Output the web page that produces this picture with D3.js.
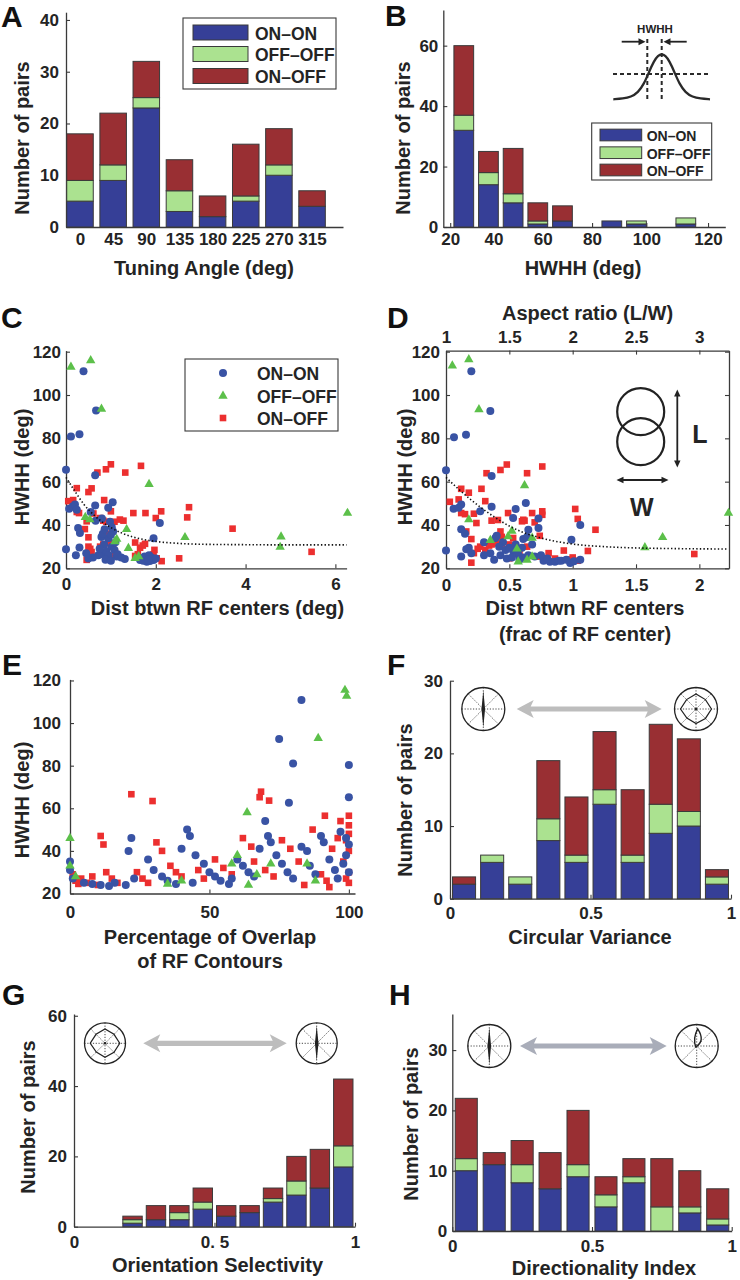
<!DOCTYPE html>
<html><head><meta charset="utf-8">
<script src="https://cdn.jsdelivr.net/npm/d3@7"></script>
<style>
body{margin:0;background:#fff}
svg{display:block}
</style></head><body>
<svg id="fig" width="740" height="1280"></svg>
<script>
// ---------------- DATA ----------------
const SERIES = ["ON\u2013ON","OFF\u2013OFF","ON\u2013OFF"];

// Panel A : tuning angle
const A_CATS = [0,45,90,135,180,225,270,315];
const A_ON = [5,9,23,3,2,5,10,4];
const A_OFF = [4,3,2,4,0,1,2,0];
const A_ONOFF = [9,10,7,6,4,10,7,3];
const A_YTICKS = [0,10,20,30,40];

// Panel B : HWHH histogram
const B_BINS = [25,35,45,55,65,75,85,95,105,115];
const B_ON = [32,14,8,1,2,0,2,1,0,1];
const B_OFF = [5,4,3,1,0,0,0,1,0,2];
const B_ONOFF = [23,7,15,6,5,0,0,0,0,0];
const B_TICK_POS = [19.5,37,57,77,99,124];
const B_TICK_LAB = ["20","40","60","80","100","120"];
const B_YTICKS = [0,20,40,60];

// Panel C : HWHH vs distance (deg)
const C_ONON = [[0.39,111],[0.11,80.8],[0.30,81.9],[0.67,92.9],[0,65.5],[0.65,63],[0.07,47.5],[0.15,48.5],[0.2,49.5],[0.65,49],[1.04,50.5],[0.94,48],[0.27,38.6],[0.31,36.3],[0,28.8],[0.3,29.6],[0.22,26],[0.79,34.4],[0.79,26.6],[0.92,24.6],[1.05,37],[1.13,25.4],[1.31,24.3],[1.95,33.9],[2.09,40.9],[1.72,23.5],[1.8,23],[1.87,23.4],[1.95,23.8],[0.94,33.9],[1.0,35.5],[0.85,31],[0.9,28],[0.95,26],[1.02,30],[1.08,28.5],[0.72,26],[0.6,25],[0.82,36],[0.98,41.5],[1.02,39],[1.1,32],[1.15,26.5],[1.23,25],[0.5,24.5],[1.75,25.5],[1.85,26],[1.9,25],[2.0,24.5],[0.45,27],[0.66,42],[0.86,38],[0.24,47],[0.55,46],[1.7,24.5],[1.65,23.8],[0.88,24],[1.0,23.5],[0.75,29],[1.83,24],[0.8,43]];
const C_OFFOFF = [[0.11,113],[0.55,116],[0.79,93.6],[1.85,58.8],[6.27,45.5],[0.43,43.6],[0.53,42.5],[1.35,38],[2.65,34.3],[4.79,34.6],[4.77,29.8],[1.39,29.3],[1.13,33.5],[1.09,32.4],[1.54,24.7],[1.62,25.5]];
const C_ONOFF = [[0.7,64.2],[0.89,65.7],[1.0,68],[1.32,64.2],[1.67,67.3],[0.24,57],[0.5,55.2],[0.57,56.9],[0.05,51],[0.16,51.5],[0.85,51.5],[0.24,46],[0.29,45.5],[0.61,45.3],[1.0,46.3],[1.5,45.5],[1.77,45.5],[2.0,43.2],[2.12,46.3],[2.74,48.2],[2.7,43.5],[3.71,38.3],[5.47,27.6],[2.52,24.6],[0.46,41.7],[0.42,38.1],[0.5,34.3],[0.5,30],[0.54,29],[0.57,27.5],[0.52,26],[0.46,23.9],[0.76,43.2],[0.83,42],[0.9,41.5],[1.08,41.5],[1.2,42.5],[1.28,42],[0.76,30],[0.83,31],[0.95,36],[0.95,33.5],[0.98,31.5],[1.05,30.5],[1.09,27.5],[0.98,24.6],[1.54,31.9],[1.65,29.5],[1.71,30.5],[1.76,31.3],[1.54,25.7],[1.97,28.5],[1.95,26.5],[2.02,24.6],[2.13,23.3],[1.6,26.5]];
const C_FIT = [[0,62],[0.2,55.5],[0.4,49.5],[0.6,45],[0.8,41.5],[1.0,38.8],[1.25,36.2],[1.5,34.4],[1.75,33.2],[2,32.4],[2.5,31.5],[3,31.1],[4,30.9],[5,30.8],[6.25,30.8]];
const C_XTICKS = [0,2,4,6];
const HW_TICKS = [20,40,60,80,100,120];

// Panel D : HWHH vs distance (fraction of RF center)
const D_ONON = [[0.2,111],[0.063,80.5],[0.158,81.6],[0.35,92.6],[0,65.3],[0.36,62.6],[0.06,47.5],[0.1,48],[0.12,49.4],[0.36,48.4],[0.27,46.3],[0.63,50.2],[0.55,47.4],[0.53,43.2],[0.73,43],[0.12,38],[0.15,36],[0.65,37.8],[0.73,38.6],[1.06,40],[0.99,33.2],[0,28.2],[0.16,28.8],[0.12,25.4],[0.39,34],[0.43,26],[0.47,28.5],[0.53,28],[0.57,26.5],[0.61,25],[0.61,33.5],[0.77,23.5],[0.82,23],[0.86,23],[0.89,23.5],[0.91,23.5],[0.98,22.5],[1.01,23.3],[1.06,24],[0.45,32],[0.5,29.5],[0.55,31],[0.58,24],[0.65,26],[0.7,25.5],[0.4,35],[0.42,30],[0.35,27],[0.3,26],[0.2,27],[0.64,34.5],[0.68,31],[0.6,29.5],[0.48,24.5],[0.52,25],[0.75,26],[0.8,24.5],[0.95,24],[0.3,32],[0.18,29.5],[0.38,24]];
const D_OFFOFF = [[0.05,113.5],[0.18,116.4],[0.26,93.3],[0.62,58.3],[2.23,45.5],[0.18,42.5],[0.52,37.3],[0.49,34.7],[0.56,29],[0.68,34],[1.57,29.6],[1.71,34.3],[0.64,23.9],[0.68,25.4],[0.57,23.1],[0.35,33]];
const D_ONOFF = [[0.32,63.9],[0.43,65.4],[0.48,67.9],[0.64,63.9],[0.76,67],[0.12,56.7],[0.18,54.9],[0.28,56.7],[0.03,50.7],[0.1,51.8],[0.31,51],[0.12,45.5],[0.15,45],[0.22,45.2],[0.49,45.5],[0.61,42.4],[0.68,45.5],[0.76,44.7],[0.76,46.3],[1.02,47.4],[1.04,42.8],[1.18,37.8],[1.96,26.6],[0.24,40.9],[0.16,37],[0.2,33.5],[0.2,22.6],[0.27,30],[0.31,28.5],[0.34,30.5],[0.36,31],[0.36,42],[0.41,42.3],[0.43,37],[0.47,29],[0.5,31],[0.5,24.6],[0.53,34],[0.6,41.7],[0.62,42],[0.7,41.2],[0.74,35],[0.64,30],[0.74,25.4],[0.81,27],[0.93,28.2],[0.97,24.1],[1.0,25],[1.04,23.5],[1.12,28],[0.25,29],[0.4,31.5],[0.44,34.5],[0.58,27],[0.22,27],[0.86,24.5]];
const D_FIT = [[0,62],[0.1,56.5],[0.2,51.5],[0.3,47],[0.4,43],[0.5,39.5],[0.6,36.8],[0.75,34],[1,31.2],[1.25,30],[1.5,29.4],[1.8,29.1],[2.23,28.9]];
const D_XTICKS = [0,0.5,1,1.5,2];
const D_TOPTICKS = [1,1.5,2,2.5,3];

// Panel E : HWHH vs % overlap
const E_ONON = [[83,110.8],[75,92.5],[80,81],[100,80.3],[78.5,62.6],[100,65.2],[0,35],[0,31],[1,27],[5,25],[8,24.5],[11,24],[14,23.5],[16,25],[20,24],[23,27],[22,46],[21,40],[28,36],[30,31],[33,28],[35,26],[38,24.5],[42,50],[43,47],[40,41],[45,38],[48,34],[50,30],[52,28],[54,26],[57,24.5],[60,36],[62,33],[64,30],[66,28],[68,41],[70,54],[71,47],[72,44],[74,38],[76,34],[78,30],[80,27],[83,42],[85,40],[86,33],[88,29],[90,47],[91,44],[93,36],[95,31],[96,27],[97,49],[99,46],[100,43],[99,38],[98,34],[100,30],[44,25],[58,27]];
const E_OFFOFF = [[98.6,115.5],[99.2,112.7],[89,92.9],[63.5,58.1],[0,46],[0,33],[2,28],[35,24.5],[60,38],[58,34],[67,29],[85,34],[88,26],[40,26],[64,24],[72,34]];
const E_ONOFF = [[22,66.6],[29.6,63.4],[68.5,67.8],[68,65.2],[71.4,63.6],[91.4,56.5],[100,56.5],[100,52],[100,48],[99,45],[100,40],[98,35],[100,30],[99,27],[100,25],[1,29],[2,26],[3,24.5],[4,27],[6,25],[8,28],[10,24],[11,47],[12,43],[13,30],[15,27],[17,25],[24,30],[26,27],[28,25],[31,44],[33,40],[36,33],[38,30],[40,28],[46,31],[48,27],[52,36],[55,32],[58,29],[62,46],[65,42],[66,35],[70,31],[73,28],[76,45],[79,41],[82,35],[84,24],[87,50],[90,29],[92,26],[94,41],[96,46],[97,54],[93,23]];
const E_XTICKS = [0,50,100];

// Panel F : circular variance
const F_BINS = [0.05,0.15,0.25,0.35,0.45,0.55,0.65,0.75,0.85,0.95];
const F_ON = [2,5,2,8,5,13,5,9,10,2];
const F_OFF = [0,1,1,3,1,2,1,4,2,1];
const F_ONOFF = [1,0,0,8,8,8,9,11,10,1];
const F_YTICKS = [0,10,20,30];
const F_XTICKS = [0,0.5,1];

// Panel G : orientation selectivity
const G_BINS = [0.0417,0.125,0.2083,0.2917,0.375,0.4583,0.5417,0.625,0.7083,0.7917,0.875,0.9583];
const G_ON = [0,0,1,2,2,5,3,4,7,9,11,17];
const G_OFF = [0,0,1,0,2,2,0,0,1,4,0,6];
const G_ONOFF = [0,0,1,4,2,4,3,2,3,7,11,19];
const G_YTICKS = [0,20,40,60];
const G_XTICKS = [0,0.5,1];
const G_XLAB = ["0","0. 5","1"];

// Panel H : directionality index
const H_BINS = [0.05,0.15,0.25,0.35,0.45,0.55,0.65,0.75,0.85,0.95];
const H_ON = [10,11,8,7,9,4,8,0,3,1];
const H_OFF = [2,0,3,0,2,2,1,4,1,1];
const H_ONOFF = [10,2,4,6,9,3,3,8,6,5];
const H_YTICKS = [0,10,20,30];
const H_XTICKS = [0,0.5,1];
const H_XLAB = ["0","0.5","1"];

// ---------------- STYLE ----------------
const FF = "'Liberation Sans', Arial, Helvetica, sans-serif";
const TXT = "#242424";
const AX = "#3a3a3a";
const BAR = {on:"#363f97", off:"#abe290", onoff:"#992f33"};
const PT = {on:"#3953a4", off:"#5cc04a", onoff:"#ec2f2f"};
const TICK_FS = 17, LAB_FS = 20;
const NUM = d3.format("");

const svg = d3.select("#fig");

function drawAxis(gen, tx, ty){
  const g = svg.append("g").attr("transform",`translate(${tx},${ty})`).call(gen);
  g.attr("font-family",FF).attr("font-size",TICK_FS).attr("font-weight","bold");
  g.select(".domain").attr("stroke",AX).attr("stroke-width",1.3);
  g.selectAll(".tick line").attr("stroke",AX).attr("stroke-width",1.1);
  g.selectAll(".tick text").attr("fill",TXT);
  return g;
}
function text(x,y,s,fs,opt){
  opt = opt||{};
  return svg.append("text").attr("x",x).attr("y",y).text(s)
    .attr("font-family",FF).attr("font-weight","bold").attr("font-size",fs)
    .attr("fill",opt.fill||TXT).attr("text-anchor",opt.anchor||"middle")
    .attr("dominant-baseline",opt.base||"central");
}
function ylabel(x,y,s){
  svg.append("text").attr("transform",`translate(${x},${y}) rotate(-90)`).text(s)
    .attr("font-family",FF).attr("font-weight","bold").attr("font-size",LAB_FS)
    .attr("fill",TXT).attr("text-anchor","middle").attr("dominant-baseline","central");
}
function letter(x,y,s){
  svg.append("text").attr("x",x).attr("y",y).text(s).attr("font-family",FF)
    .attr("font-weight","bold").attr("font-size",30).attr("fill","#111");
}
function stackBars(x,y,bins,on,off,onoff,binW){
  const rows = bins.map((b,i)=>({b:b,on:on[i],off:off[i],onoff:onoff[i]}));
  const layers = d3.stack().keys(["on","off","onoff"])(rows);
  const g = svg.append("g");
  layers.forEach(layer=>{
    g.selectAll(null).data(layer.filter(d=>d[1]>d[0])).join("rect")
      .attr("x",d=>x(d.data.b-binW/2)).attr("width",d=>x(d.data.b+binW/2)-x(d.data.b-binW/2))
      .attr("y",d=>y(d[1])).attr("height",d=>y(d[0])-y(d[1]))
      .attr("fill",BAR[layer.key]).attr("stroke",AX).attr("stroke-width",1);
  });
}
function scatter(x,y,on,off,onoff){
  const g = svg.append("g");
  g.selectAll(null).data(onoff).join("rect")
    .attr("x",d=>x(d[0])-3.3).attr("y",d=>y(d[1])-3.3).attr("width",6.6).attr("height",6.6)
    .attr("fill",PT.onoff);
  g.selectAll(null).data(on).join("circle")
    .attr("cx",d=>x(d[0])).attr("cy",d=>y(d[1])).attr("r",4).attr("fill",PT.on);
  g.selectAll(null).data(off).join("path")
    .attr("d",d=>`M${x(d[0])},${y(d[1])-5.4}L${x(d[0])+4.7},${y(d[1])+2.8}L${x(d[0])-4.7},${y(d[1])+2.8}Z`)
    .attr("fill",PT.off);
}
function fitLine(x,y,pts){
  svg.append("path").datum(pts)
    .attr("d",d3.line().x(d=>x(d[0])).y(d=>y(d[1])).curve(d3.curveMonotoneX))
    .attr("fill","none").attr("stroke","#111").attr("stroke-width",1.6)
    .attr("stroke-dasharray","1.4,2.2");
}
function barLegend(x0,y0,w,h,swX,swW,swH,rows,tx,fs){
  svg.append("rect").attr("x",x0).attr("y",y0).attr("width",w).attr("height",h)
    .attr("fill","#fff").attr("stroke",AX).attr("stroke-width",1.1);
  const keys=["on","off","onoff"];
  rows.forEach((ry,i)=>{
    svg.append("rect").attr("x",swX).attr("y",ry-swH/2).attr("width",swW).attr("height",swH)
      .attr("fill",BAR[keys[i]]).attr("stroke",AX).attr("stroke-width",1);
    text(tx,ry+1,SERIES[i],fs,{anchor:"start"});
  });
}
function ptLegend(x0,y0,w,h,mx,rows,tx,fs){
  svg.append("rect").attr("x",x0).attr("y",y0).attr("width",w).attr("height",h)
    .attr("fill","#fff").attr("stroke",AX).attr("stroke-width",1.1);
  svg.append("circle").attr("cx",mx).attr("cy",rows[0]).attr("r",4).attr("fill",PT.on);
  svg.append("path").attr("d",`M${mx},${rows[1]-5.4}L${mx+4.7},${rows[1]+2.8}L${mx-4.7},${rows[1]+2.8}Z`).attr("fill",PT.off);
  svg.append("rect").attr("x",mx-3.3).attr("y",rows[2]-3.3).attr("width",6.6).attr("height",6.6).attr("fill",PT.onoff);
  rows.forEach((ry,i)=>text(tx,ry+1,SERIES[i],fs,{anchor:"start"}));
}
function dblArrow(x1,x2,y,color){
  const L=17,h=9,t=2.6;
  svg.append("path").attr("d",
    `M${x1},${y}L${x1+L},${y-h}L${x1+L-3},${y-t}L${x2-L+3},${y-t}L${x2-L},${y-h}L${x2},${y}`+
    `L${x2-L},${y+h}L${x2-L+3},${y+t}L${x1+L-3},${y+t}L${x1+L},${y+h}Z`).attr("fill",color);
}
function polarIcon(cx,cy,r,kind){
  const g = svg.append("g").attr("transform",`translate(${cx},${cy})`);
  g.append("circle").attr("r",r).attr("fill","#fff").attr("stroke","#222").attr("stroke-width",1.3);
  [0,45,90,135].forEach(a=>{
    const c=Math.cos(a*Math.PI/180)*r, s=Math.sin(a*Math.PI/180)*r;
    g.append("line").attr("x1",-c).attr("y1",-s).attr("x2",c).attr("y2",s)
      .attr("stroke","#333").attr("stroke-width",0.9).attr("stroke-dasharray","1.2,1.6");
  });
  if(kind==="spike"){
    g.append("path").attr("d",`M0,${-0.86*r}L1.8,0L0,${0.86*r}L-1.8,0Z`).attr("fill","#222");
  } else if(kind==="octagon"){
    const rad=[0.72,0.62,0.7,0.62,0.72,0.6,0.68,0.62];
    const pts=rad.map((k,i)=>[Math.cos(i*Math.PI/4)*k*r, -Math.sin(i*Math.PI/4)*k*r]);
    g.append("path").attr("d",d3.line()(pts)+"Z").attr("fill","none").attr("stroke","#222").attr("stroke-width",1.2);
    g.append("circle").attr("r",1.3).attr("fill","#222");
  } else if(kind==="drop"){
    g.append("path").attr("d",`M-1,1Q9,-5 1,${-0.8*r}Q-4,-8 -1,1Z`).attr("fill","none").attr("stroke","#222").attr("stroke-width",1.4);
  }
}
function arrowHead(x,y,dir,len,hw){
  let p;
  if(dir==="r") p=`M${x},${y}L${x-len},${y-hw}L${x-len},${y+hw}Z`;
  if(dir==="l") p=`M${x},${y}L${x+len},${y-hw}L${x+len},${y+hw}Z`;
  if(dir==="u") p=`M${x},${y}L${x-hw},${y+len}L${x+hw},${y+len}Z`;
  if(dir==="d") p=`M${x},${y}L${x-hw},${y-len}L${x+hw},${y-len}Z`;
  svg.append("path").attr("d",p).attr("fill","#222");
}

// ---------------- PANEL A ----------------
{
  const x = d3.scaleLinear().domain([-19,357]).range([66,343]);
  const y = d3.scaleLinear().domain([0,41.5]).range([227,12.2]);
  drawAxis(d3.axisLeft(y).tickValues(A_YTICKS).tickSize(-4).tickSizeOuter(0).tickPadding(7),66,0);
  drawAxis(d3.axisBottom(x).tickValues(A_CATS).tickSize(-4).tickSizeOuter(0).tickPadding(6),0,227);
  stackBars(x,y,A_CATS,A_ON,A_OFF,A_ONOFF,36);
  barLegend(183,18,153,71,193,55,15,[32.5,54,76],255,17.5);
  ylabel(22,138,"Number of pairs");
  text(204,268,"Tuning Angle (deg)",LAB_FS);
  letter(1,27,"A");
}
// ---------------- PANEL B ----------------
{
  const x = d3.scaleLinear().domain([16.7,131]).range([443.3,725.3]);
  const y = d3.scaleLinear().domain([0,71.8]).range([227,10]);
  drawAxis(d3.axisLeft(y).tickValues(B_YTICKS).tickSize(-4).tickSizeOuter(0).tickPadding(5),443.3,0);
  drawAxis(d3.axisBottom(x).tickValues(B_TICK_POS).tickFormat((d,i)=>B_TICK_LAB[i]).tickSize(-4).tickSizeOuter(0).tickPadding(6),0,227);
  stackBars(x,y,B_BINS,B_ON,B_OFF,B_ONOFF,8);
  barLegend(591.7,123,120,57,600,41.7,11.7,[135,152.7,170],646.7,14);
  ylabel(402.5,138,"Number of pairs");
  text(583,268,"HWHH (deg)",LAB_FS);
  letter(385,26,"B");
  // inset tuning curve
  const cpts=[[613.3,99.3],[623,98.6],[631,97],[638,92.5],[644,84],[649,72],[654,61],[658,55.5],[661.7,54],[665.4,55.5],[669.4,61],[674.4,72],[679.4,84],[685.4,92.5],[692.4,97],[700.4,98.6],[710,99.3]];
  svg.append("path").attr("d",d3.line().curve(d3.curveBasis)(cpts)).attr("fill","none").attr("stroke","#2a2a2a").attr("stroke-width",2.3);
  svg.append("line").attr("x1",613).attr("x2",710).attr("y1",74).attr("y2",74).attr("stroke","#2a2a2a").attr("stroke-width",2).attr("stroke-dasharray","4,3");
  [647.3,661.7].forEach(xx=>svg.append("line").attr("x1",xx).attr("x2",xx).attr("y1",39).attr("y2",100).attr("stroke","#2a2a2a").attr("stroke-width",2).attr("stroke-dasharray","4,3"));
  svg.append("line").attr("x1",621.7).attr("x2",640).attr("y1",41.7).attr("y2",41.7).attr("stroke","#222").attr("stroke-width",1.8);
  arrowHead(645.5,41.7,"r",7,3.5);
  svg.append("line").attr("x1",686.7).attr("x2",669).attr("y1",41.7).attr("y2",41.7).attr("stroke","#222").attr("stroke-width",1.8);
  arrowHead(663.5,41.7,"l",7,3.5);
  text(655,28.5,"HWHH",11.5);
}
// ---------------- PANEL C ----------------
{
  const x = d3.scaleLinear().domain([0,6.25]).range([66,346.6]);
  const y = d3.scaleLinear().domain([20,120.5]).range([568.3,350.6]);
  drawAxis(d3.axisLeft(y).tickValues(HW_TICKS).tickSize(-4).tickSizeOuter(0).tickPadding(5),66,0);
  drawAxis(d3.axisBottom(x).tickValues(C_XTICKS).tickFormat(NUM).tickSize(-4).tickSizeOuter(0).tickPadding(10),0,568.3);
  scatter(x,y,C_ONON,C_OFFOFF,C_ONOFF);
  fitLine(x,y,C_FIT);
  ptLegend(185,359,153,72,223,[373,396,418],257,17.5);
  ylabel(22,467,"HWHH (deg)");
  text(217.5,608,"Dist btwn RF centers (deg)",LAB_FS);
  letter(1,328,"C");
}
// ---------------- PANEL D ----------------
{
  const x = d3.scaleLinear().domain([0,2.234]).range([446,729]);
  const xt = d3.scaleLinear().domain([1,3.234]).range([446,729]);
  const y = d3.scaleLinear().domain([20,120.5]).range([568.3,350.6]);
  drawAxis(d3.axisLeft(y).tickValues(HW_TICKS).tickSize(-4).tickSizeOuter(0).tickPadding(6),446,0);
  drawAxis(d3.axisRight(y).tickValues(HW_TICKS).tickSize(-4).tickSizeOuter(0).tickFormat(""),729,0);
  drawAxis(d3.axisBottom(x).tickValues(D_XTICKS).tickFormat(NUM).tickSize(-4).tickSizeOuter(0).tickPadding(11),0,568.3);
  drawAxis(d3.axisTop(xt).tickValues(D_TOPTICKS).tickFormat(NUM).tickSize(-4).tickSizeOuter(0).tickPadding(8),0,350.6);
  scatter(x,y,D_ONON,D_OFFOFF,D_ONOFF);
  fitLine(x,y,D_FIT);
  text(587.5,312.5,"Aspect ratio (L/W)",LAB_FS);
  ylabel(405,467,"HWHH (deg)");
  text(585,608,"Dist btwn RF centers",LAB_FS);
  text(585,634,"(frac of RF center)",LAB_FS);
  letter(387,328,"D");
  // inset
  [411.7,441.7].forEach(cy=>svg.append("circle").attr("cx",640.7).attr("cy",cy).attr("r",23.5).attr("fill","none").attr("stroke","#222").attr("stroke-width",2.2));
  svg.append("line").attr("x1",677.3).attr("x2",677.3).attr("y1",395).attr("y2",462).attr("stroke","#222").attr("stroke-width",1.8);
  arrowHead(677.3,389.5,"u",7,3.2); arrowHead(677.3,467.5,"d",7,3.2);
  svg.append("line").attr("x1",622).attr("x2",663).attr("y1",480).attr("y2",480).attr("stroke","#222").attr("stroke-width",1.8);
  arrowHead(616.5,480,"l",7,3.2); arrowHead(668.5,480,"r",7,3.2);
  text(700,434,"L",25);
  text(641.7,507,"W",25);
}
// ---------------- PANEL E ----------------
{
  const x = d3.scaleLinear().domain([0,102.2]).range([70,355]);
  const y = d3.scaleLinear().domain([20,120.5]).range([893.5,679.4]);
  drawAxis(d3.axisLeft(y).tickValues(HW_TICKS).tickSize(-4).tickSizeOuter(0).tickPadding(9),70,0);
  drawAxis(d3.axisBottom(x).tickValues(E_XTICKS).tickSize(-4).tickSizeOuter(0).tickPadding(12),0,893.5);
  scatter(x,y,E_ONON,E_OFFOFF,E_ONOFF);
  ylabel(22,800,"HWHH (deg)");
  text(210,937,"Percentage of Overlap",LAB_FS);
  text(210,961,"of RF Contours",LAB_FS);
  letter(2,675,"E");
}
// ---------------- PANEL F ----------------
{
  const x = d3.scaleLinear().domain([0,1]).range([450,731]);
  const y = d3.scaleLinear().domain([0,30]).range([898.7,680.7]);
  drawAxis(d3.axisLeft(y).tickValues(F_YTICKS).tickSize(-4).tickSizeOuter(0).tickPadding(7),450,0);
  drawAxis(d3.axisBottom(x).tickValues(F_XTICKS).tickFormat(NUM).tickSize(-4).tickSizeOuter(0).tickPadding(8),0,898.7);
  stackBars(x,y,F_BINS,F_ON,F_OFF,F_ONOFF,0.082);
  polarIcon(483.3,709,21.5,"spike");
  polarIcon(696,709,21.5,"octagon");
  dblArrow(516.7,661.7,709,"#bdbdbd");
  ylabel(405,800,"Number of pairs");
  text(590,937,"Circular Variance",LAB_FS);
  letter(387,675,"F");
}
// ---------------- PANEL G ----------------
{
  const x = d3.scaleLinear().domain([0,1]).range([74,355]);
  const y = d3.scaleLinear().domain([0,60.5]).range([1226.7,1014]);
  drawAxis(d3.axisLeft(y).tickValues(G_YTICKS).tickSize(-4).tickSizeOuter(0).tickPadding(7),74,0);
  drawAxis(d3.axisBottom(x).tickValues(G_XTICKS).tickFormat((d,i)=>G_XLAB[i]).tickSize(-4).tickSizeOuter(0).tickPadding(9),0,1226.7);
  stackBars(x,y,G_BINS,G_ON,G_OFF,G_ONOFF,0.069);
  polarIcon(105,1043.3,20.5,"octagon");
  polarIcon(316.7,1043.3,20.5,"spike");
  dblArrow(143.3,286.7,1043.3,"#bdbdbd");
  ylabel(27.5,1117,"Number of pairs");
  text(217.5,1265,"Orientation Selectivity",LAB_FS);
  letter(2,1005,"G");
}
// ---------------- PANEL H ----------------
{
  const x = d3.scaleLinear().domain([0,1]).range([452.3,731.7]);
  const y = d3.scaleLinear().domain([0,36]).range([1231,1013.9]);
  drawAxis(d3.axisLeft(y).tickValues(H_YTICKS).tickSize(-4).tickSizeOuter(0).tickPadding(5),452.3,0);
  drawAxis(d3.axisBottom(x).tickValues(H_XTICKS).tickFormat((d,i)=>H_XLAB[i]).tickSize(-4).tickSizeOuter(0).tickPadding(9),0,1231);
  stackBars(x,y,H_BINS,H_ON,H_OFF,H_ONOFF,0.079);
  polarIcon(489.3,1046,21.5,"spike");
  polarIcon(696.7,1046,21.5,"drop");
  dblArrow(520,666.7,1046,"#a9adb9");
  ylabel(411,1124,"Number of pairs");
  text(604,1268,"Directionality Index",LAB_FS);
  letter(389,1005,"H");
}
</script>
</body></html>
